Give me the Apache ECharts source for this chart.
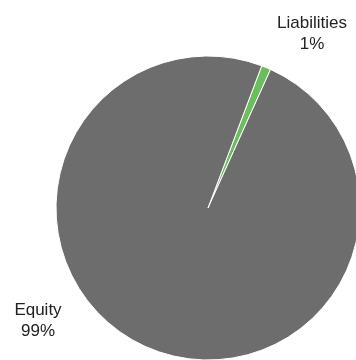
<!DOCTYPE html>
<html>
<head>
<meta charset="utf-8">
<script src="https://cdn.jsdelivr.net/npm/echarts@6/dist/echarts.min.js"></script>
<style>
  html, body { margin: 0; padding: 0; background: #fff; }
  #chart { width: 356px; height: 360px; }
</style>
</head>
<body>
<div id="chart"></div>
<script>
  let categories = ['Liabilities', 'Equity'];
  let values = [1, 99];
  let colors = ['#6abf5c', '#6d6d6d'];
  // label anchor spots, like the hand-placed labels in the original
  let labelSpots = [[312, 34], [38, 321]];

  let chart = echarts.init(document.getElementById('chart'));
  chart.setOption({
    animation: false,
    series: [{
      type: 'pie',
      center: [208, 208],
      radius: 152,
      startAngle: 69.3,
      clockwise: true,
      silent: true,
      itemStyle: {
        borderColor: '#ffffff',
        borderWidth: 1
      },
      label: {
        show: true,
        position: 'outside',
        formatter: '{b}\n{d}%',
        fontFamily: '"Liberation Sans", Arial, sans-serif',
        fontSize: 17,
        lineHeight: 21,
        color: '#222222',
        align: 'center',
        overflow: 'none'
      },
      labelLine: { show: false },
      labelLayout: function (params) {
        let p = labelSpots[params.dataIndex];
        return { x: p[0], y: p[1], align: 'center', verticalAlign: 'middle' };
      },
      data: categories.map(function (name, i) {
        return { name: name, value: values[i], itemStyle: { color: colors[i] } };
      })
    }]
  });
</script>
</body>
</html>
